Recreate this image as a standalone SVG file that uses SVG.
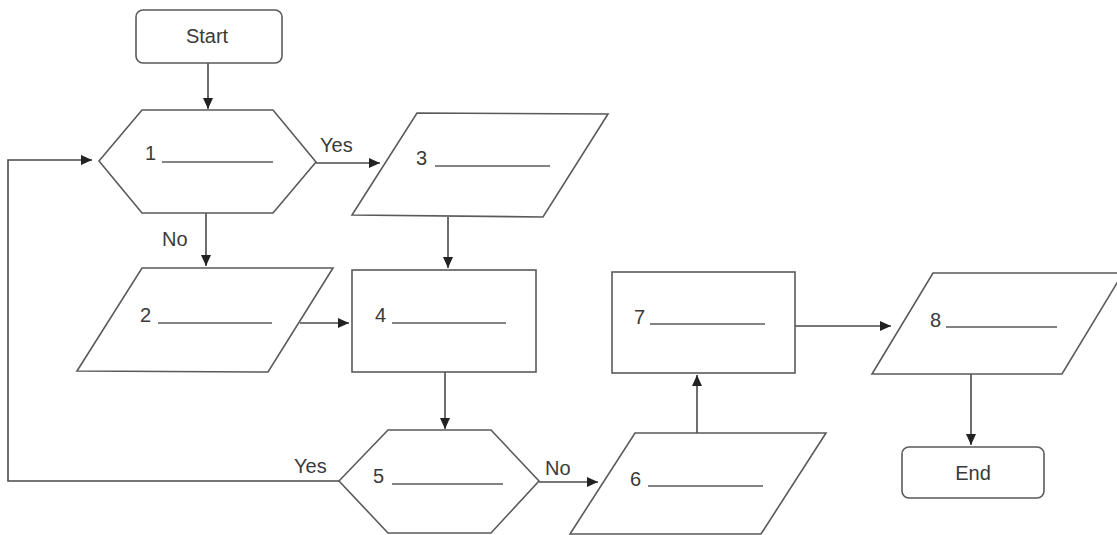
<svg xmlns="http://www.w3.org/2000/svg" width="1117" height="535" viewBox="0 0 1117 535">
<style>
.s{fill:#fff;stroke:#5a5a5a;stroke-width:1.6}
.t{font-family:"Liberation Sans",Arial,sans-serif;font-size:20px;fill:#3a3a3a}
.u{stroke:#5a5a5a;stroke-width:1.3}
.c{fill:none;stroke:#4a4a4a;stroke-width:1.6}
</style>
<defs>
<marker id="ah" markerUnits="userSpaceOnUse" markerWidth="12" markerHeight="10" refX="11" refY="5" orient="auto">
<path d="M0,0 L11,5 L0,10 Z" fill="#222"/>
</marker>
</defs>
<rect width="1117" height="535" fill="#fff"/>
<g id="connectors">
<line class="c" x1="208" y1="63" x2="208" y2="109" marker-end="url(#ah)"/>
<line class="c" x1="206" y1="213" x2="206" y2="266" marker-end="url(#ah)"/>
<line class="c" x1="316" y1="163" x2="380" y2="163" marker-end="url(#ah)"/>
<line class="c" x1="448" y1="217" x2="448" y2="268" marker-end="url(#ah)"/>
<line class="c" x1="300" y1="323" x2="349" y2="323" marker-end="url(#ah)"/>
<line class="c" x1="445" y1="372" x2="445" y2="429" marker-end="url(#ah)"/>
<polyline class="c" points="339,481 8,481 8,160 92,160" marker-end="url(#ah)"/>
<line class="c" x1="539" y1="482" x2="598" y2="482" marker-end="url(#ah)"/>
<line class="c" x1="697" y1="433" x2="697" y2="375" marker-end="url(#ah)"/>
<line class="c" x1="795" y1="326" x2="891" y2="326" marker-end="url(#ah)"/>
<line class="c" x1="971" y1="374" x2="971" y2="445" marker-end="url(#ah)"/>
<text class="t" x="320" y="152">Yes</text>
<text class="t" x="162" y="246">No</text>
<text class="t" x="294" y="473">Yes</text>
<text class="t" x="545" y="475">No</text>
</g>
<g id="start">
<rect class="s" x="136" y="10" width="146" height="53" rx="7"/>
<text class="t" x="207" y="43" text-anchor="middle">Start</text>
</g>
<g id="n1">
<polygon class="s" points="99,161 142,110 273,110 316,162 273,213 142,213"/>
<text class="t" x="145" y="160">1</text>
<line class="u" x1="162" y1="162" x2="273" y2="162"/>
</g>
<g id="n2">
<polygon class="s" points="142,268 333,268 268,372 77,371"/>
<text class="t" x="140" y="322">2</text>
<line class="u" x1="158" y1="323" x2="272" y2="323"/>
</g>
<g id="n3">
<polygon class="s" points="417,113 608,114 543,217 352,215"/>
<text class="t" x="416" y="165">3</text>
<line class="u" x1="435" y1="166" x2="550" y2="166"/>
</g>
<g id="n4">
<rect class="s" x="352" y="270" width="184" height="102"/>
<text class="t" x="375" y="322">4</text>
<line class="u" x1="392" y1="323" x2="506" y2="323"/>
</g>
<g id="n5">
<polygon class="s" points="339,481 388,430 491,430 539,481 491,533 388,533"/>
<text class="t" x="373" y="483">5</text>
<line class="u" x1="392" y1="484" x2="503" y2="484"/>
</g>
<g id="n6">
<polygon class="s" points="635,433 826,433 761,534 570,534"/>
<text class="t" x="630" y="486">6</text>
<line class="u" x1="648" y1="486" x2="763" y2="486"/>
</g>
<g id="n7">
<rect class="s" x="612" y="272" width="183" height="101"/>
<text class="t" x="634" y="324">7</text>
<line class="u" x1="650" y1="324" x2="765" y2="324"/>
</g>
<g id="n8">
<polygon class="s" points="933,273 1123,273 1062,374 872,374"/>
<text class="t" x="930" y="327">8</text>
<line class="u" x1="946" y1="327" x2="1057" y2="327"/>
</g>
<g id="end">
<rect class="s" x="902" y="447" width="142" height="51" rx="7"/>
<text class="t" x="973" y="480" text-anchor="middle">End</text>
</g>
</svg>
